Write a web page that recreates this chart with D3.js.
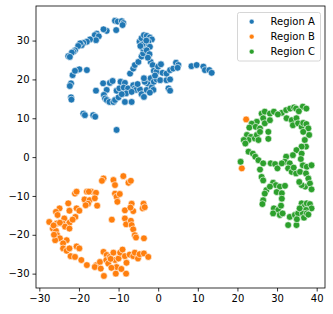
<!DOCTYPE html>
<html><head><meta charset="utf-8">
<script src="https://cdn.jsdelivr.net/npm/d3@7"></script>
<style>body{margin:0;background:#fff}svg{display:block}text{font-family:"DejaVu Sans",sans-serif}</style>
</head><body>
<svg id="c" width="333" height="314"></svg>
<script>
const seriesNames = ["Region A", "Region B", "Region C"];
const seriesColors = ["#1f77b4", "#ff7f0e", "#2ca02c"];
const xTicks = [-30, -20, -10, 0, 10, 20, 30, 40];
const yTicks = [-30, -20, -10, 0, 10, 20, 30];

const regionA = [
[-10.9,35.1],[-10.2,34.9],[-9.2,35.0],[-8.8,34.5],[-9.0,34.0],[-10.6,32.7],[-13.0,32.5],[-13.8,32.9],
[-15.5,31.8],[-16.0,31.4],[-15.0,31.1],[-15.7,30.1],[-17.2,30.3],[-18.0,29.7],[-18.9,29.4],[-19.3,28.8],
[-19.7,29.3],[-20.2,28.6],[-21.0,27.5],[-21.4,27.1],[-21.8,26.9],[-22.7,26.0],[-22.3,25.8],[-21.6,21.1],
[-20.4,22.4],[-19.9,22.6],[-21.0,22.2],[-18.0,22.4],[-22.0,19.0],[-22.3,18.3],[-22.0,15.4],[-21.9,14.8],
[-18.9,11.2],[-18.5,10.8],[-16.4,10.8],[-15.9,10.4],[-10.5,7.0],
[-15.7,17.1],[-13.9,19.0],[-12.2,19.1],[-13.0,17.3],[-13.7,16.0],[-13.4,15.1],[-13.0,14.7],[-12.3,14.2],
[-11.3,14.2],[-10.9,14.7],[-10.0,15.4],[-10.5,17.1],[-9.8,17.7],[-9.5,19.4],[-8.4,19.1],[-8.7,17.9],
[-7.6,17.7],[-8.1,16.4],[-8.4,14.2],[-6.7,14.2],[-6.3,18.5],[-5.9,17.7],[-5.6,17.3],[-6.7,16.8],
[-4.6,17.4],[-4.2,16.2],[-3.6,15.5],[-2.9,17.3],[-2.7,19.0],[-3.4,19.4],[-3.6,20.3],[-1.9,20.3],
[-1.6,18.0],[-1.2,17.3],[-2.1,16.6],[-1.1,19.4],[-0.4,20.0],[0.5,19.8],[2.1,19.8],[3.0,20.0],
[2.6,17.7],[3.0,17.1],[-7.1,21.5],[-6.3,22.8],[-5.9,23.7],[-5.0,24.5],[-4.2,25.9],[-3.8,26.7],
[-3.9,28.0],[-3.4,28.4],[-4.7,29.7],[-4.2,30.6],[-3.6,31.4],[-2.9,31.2],[-2.1,30.8],[-1.6,30.3],
[-2.5,29.7],[-3.1,29.2],[-2.1,28.4],[-2.9,27.5],[-2.2,26.5],[-1.9,24.5],[-1.4,23.7],[-1.1,22.2],
[-0.4,22.0],[0.0,23.3],[0.7,23.9],[1.1,21.7],[2.1,21.5],[3.0,22.4],[3.8,22.8],[4.5,24.3],
[5.1,23.7],[4.9,23.0],[8.4,23.4],[9.7,23.7],[11.4,23.3],[11.8,22.4],[12.9,22.4],[13.5,21.7],
[-4.0,29.0],[-3.0,30.0],[-4.5,28.6],[-2.6,25.6],[-0.8,21.0],[-5.2,18.8],[-11.5,19.6],[-9.2,16.2]
];
const regionB = [
[-13.8,-5.5],[-14.2,-6.1],[-11.3,-5.9],[-10.9,-7.2],[-8.8,-4.9],[-7.5,-6.6],[-6.9,-6.1],[-10.9,-9.4],
[-10.5,-10.2],[-10.3,-11.5],[-9.7,-9.5],[-21.0,-9.4],[-20.6,-8.9],[-18.0,-8.9],[-16.9,-8.9],[-15.7,-9.2],
[-18.6,-10.9],[-17.3,-11.1],[-17.7,-12.0],[-18.3,-12.4],[-16.0,-10.6],[-15.4,-12.5],[-22.7,-11.9],[-20.6,-13.2],
[-19.9,-13.8],[-20.9,-15.4],[-22.4,-13.8],[-24.9,-13.2],[-25.8,-14.1],[-25.4,-14.9],[-23.7,-15.8],[-24.1,-17.1],
[-22.4,-16.9],[-21.6,-16.1],[-27.5,-16.7],[-26.6,-18.4],[-25.6,-17.1],[-24.8,-16.9],[-23.5,-17.9],[-22.4,-18.4],
[-25.8,-19.0],[-25.5,-20.1],[-24.8,-20.9],[-26.0,-21.4],[-23.1,-21.4],[-24.0,-22.2],[-24.0,-23.5],[-23.1,-24.1],
[-22.4,-23.5],[-22.1,-25.5],[-20.6,-23.0],[-19.9,-23.5],[-21.0,-25.7],[-19.4,-26.5],[-18.0,-27.8],[-15.6,-27.8],
[-16.0,-28.3],[-14.7,-27.0],[-14.5,-28.7],[-13.7,-30.6],[-13.8,-24.4],[-13.0,-25.2],[-13.1,-26.5],[-12.2,-25.7],
[-12.6,-27.4],[-11.3,-24.6],[-10.9,-26.5],[-10.5,-28.3],[-10.7,-30.0],[-10.0,-26.1],[-9.6,-24.6],[-9.0,-23.8],
[-8.4,-25.5],[-8.0,-27.2],[-8.1,-30.0],[-7.2,-25.1],[-6.3,-25.5],[-5.9,-24.6],[-5.1,-26.1],[-4.7,-25.0],
[-3.6,-24.8],[-2.5,-25.7],[-11.7,-16.1],[-8.4,-13.7],[-6.7,-12.0],[-6.3,-13.9],[-8.4,-15.8],[-8.1,-17.3],
[-6.9,-16.4],[-6.7,-17.5],[-6.3,-18.6],[-5.9,-20.1],[-5.6,-20.7],[-3.7,-12.0],[-3.9,-13.2],[-3.4,-12.9],
[-3.6,-20.9],[-11.8,-28.5],[-9.3,-28.8],[-12.0,-26.2],[-26.3,-20.0],[-26.4,-17.6],[-17.5,-8.9],[-7.0,-13.0],
[22.2,9.7],[21.1,-2.9]
];
const regionC = [
[20.8,-1.2],[26.1,11.2],[26.9,11.7],[28.2,11.2],[29.2,11.7],[31.2,11.4],[32.3,12.1],[33.3,12.5],
[34.3,12.8],[34.8,12.5],[36.5,13.0],[37.4,12.5],[32.4,10.0],[33.7,9.5],[34.9,10.0],[34.0,8.2],
[35.3,8.7],[36.2,7.8],[36.6,8.8],[37.4,8.5],[37.9,7.4],[38.1,5.7],[36.6,6.5],[37.0,4.4],
[37.3,2.7],[36.2,2.7],[34.9,1.8],[36.2,0.9],[34.0,0.5],[32.3,0.1],[32.0,-1.2],[33.2,-1.6],
[32.8,-2.9],[33.7,-3.8],[34.8,-4.2],[35.8,-3.8],[36.5,-2.1],[37.5,-2.5],[38.7,-2.1],[37.3,-4.2],
[37.9,-5.5],[37.1,-7.6],[36.2,-7.2],[35.6,-6.4],[38.3,-6.8],[38.7,-8.3],[28.4,-1.6],[29.5,-1.8],
[30.1,-2.9],[31.2,-1.6],[25.7,-3.2],[26.1,-5.1],[26.5,-6.0],[29.0,-6.6],[29.7,-7.2],[30.7,-7.6],
[32.0,-7.4],[27.3,-8.5],[28.2,-7.6],[26.9,-9.4],[26.5,-11.1],[26.3,-12.1],[29.9,-9.0],[31.2,-9.3],
[31.2,-10.7],[29.2,-13.2],[30.3,-13.6],[29.0,-14.5],[30.7,-14.9],[31.4,-14.5],[33.2,-15.4],[32.8,-17.5],
[34.9,-17.5],[34.5,-14.9],[35.3,-14.5],[36.2,-11.9],[36.8,-12.8],[37.5,-11.9],[38.3,-12.1],[38.7,-13.2],
[37.3,-13.6],[36.5,-14.5],[36.8,-15.6],[37.5,-14.5],[35.7,-13.2],[37.9,-14.8],[24.9,9.1],[23.6,8.6],
[23.0,7.6],[24.6,7.8],[25.7,7.4],[26.5,10.0],[26.9,8.7],[28.2,9.5],[22.4,5.7],[23.4,5.2],
[22.8,4.4],[21.6,4.4],[22.0,3.5],[24.4,4.8],[24.9,5.7],[25.3,4.4],[25.7,6.5],[27.8,6.5],
[27.8,4.7],[22.8,1.4],[23.9,0.9],[24.5,0.1],[25.3,-0.8],[26.5,-1.6],[35.5,11.8],[30.2,11.0],
[36.0,-0.5],[34.2,-2.7],[35.0,-16.0],[31.0,-12.5]
];

const W = 333, H = 314;
const m = {left: 36, right: 325, top: 6, bottom: 288};
const x = d3.scaleLinear().domain([-30.84, 42.1]).range([m.left, m.right]);
const y = d3.scaleLinear().domain([-33.7, 38.9]).range([m.bottom, m.top]);
const svg = d3.select("#c");
const fmt = d => (d < 0 ? "\u2212" + Math.abs(d) : "" + d);

const all = [regionA, regionB, regionC];
all.forEach((pts, i) => {
  svg.append("g").selectAll("circle").data(pts).join("circle")
    .attr("cx", d => x(d[0])).attr("cy", d => y(d[1])).attr("r", 3.4)
    .attr("fill", seriesColors[i]).attr("stroke", "#fff").attr("stroke-width", 0.6);
});

const xa = svg.append("g").attr("transform", `translate(0,${m.bottom})`)
  .call(d3.axisBottom(x).tickValues(xTicks).tickFormat(fmt).tickSize(3.5).tickPadding(3));
const ya = svg.append("g").attr("transform", `translate(${m.left},0)`)
  .call(d3.axisLeft(y).tickValues(yTicks).tickFormat(fmt).tickSize(3.5).tickPadding(3));
[xa, ya].forEach(a => {
  a.select(".domain").remove();
  a.selectAll("line").attr("stroke", "#000").attr("stroke-width", 0.8);
  a.selectAll("text").attr("font-size", 10).attr("fill", "#000").attr("font-family", "DejaVu Sans");
});
svg.append("rect").attr("x", m.left).attr("y", m.top)
  .attr("width", m.right - m.left).attr("height", m.bottom - m.top)
  .attr("fill", "none").attr("stroke", "#000").attr("stroke-width", 0.8);

const lg = svg.append("g");
lg.append("rect").attr("x", 237.5).attr("y", 12.5).attr("width", 83).attr("height", 48.5).attr("rx", 2)
  .attr("fill", "#fff").attr("fill-opacity", 0.8).attr("stroke", "#ccc").attr("stroke-width", 0.8);
seriesNames.forEach((n, i) => {
  const yy = 21.7 + i * 15;
  lg.append("circle").attr("cx", 251.7).attr("cy", yy).attr("r", 2.4).attr("fill", seriesColors[i])
    .attr("stroke", "#fff").attr("stroke-width", 0.4);
  lg.append("text").attr("x", 270.5).attr("y", yy).attr("dy", "0.35em").attr("font-size", 10)
    .attr("fill", "#000").text(n);
});
</script>
</body></html>
